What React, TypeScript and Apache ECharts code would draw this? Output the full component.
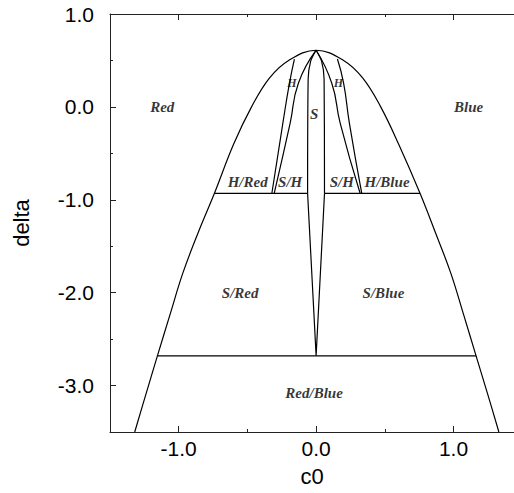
import React, { useEffect, useRef } from "react";
import * as echarts from "echarts";

// Outer phase boundary (c0, delta)
const outerC0 = [-1.32, -1.24, -1.155, -1.06, -0.97, -0.86, -0.74, -0.6, -0.47, -0.34, -0.2, 0, 0.2, 0.34, 0.47, 0.6, 0.756, 0.87, 0.98, 1.07, 1.164, 1.25, 1.33];
const outerDelta = [-3.5, -3.1, -2.68, -2.22, -1.79, -1.36, -0.93, -0.4, 0.0, 0.31, 0.5, 0.61, 0.5, 0.31, 0.0, -0.4, -0.93, -1.36, -1.79, -2.22, -2.68, -3.1, -3.5];

// H region boundaries
const hOuterDelta = [0.515, 0.255, -0.175, -0.93];
const hOuterLeftC0 = [-0.158, -0.194, -0.242, -0.322];
const hOuterRightC0 = [0.155, 0.2, 0.242, 0.332];
const hInnerDelta = [0.61, 0.255, -0.175, -0.93];
const hInnerLeftC0 = [0, -0.129, -0.189, -0.305];
const hInnerRightC0 = [0, 0.114, 0.175, 0.32];

// S region boundaries
const sDelta = [0.61, 0.49, 0.3, -0.93];
const sLeftC0 = [0, -0.04, -0.058, -0.062];
const sRightC0 = [0, 0.04, 0.058, 0.061];

// narrow V below the S region
const vC0 = [-0.062, 0, 0.061];
const vDelta = [-0.93, -2.68, -0.93];

// horizontal boundaries
const upperLineDelta = -0.93;
const upperLeftC0 = [-0.74, -0.062];
const upperRightC0 = [0.061, 0.756];
const lowerLineDelta = -2.68;
const lowerC0 = [-1.155, 1.164];

// region labels
const labelNames = ["Red", "Blue", "H", "H", "S", "H/Red", "S/H", "S/H", "H/Blue", "S/Red", "S/Blue", "Red/Blue"];
const labelC0 = [-1.12, 1.11, -0.177, 0.162, -0.015, -0.498, -0.189, 0.187, 0.516, -0.553, 0.49, -0.015];
const labelDelta = [0.0, 0.0, 0.26, 0.26, -0.075, -0.81, -0.81, -0.81, -0.81, -2.0, -2.0, -3.08];

// ticks
const xMajorTicks = [-1, 0, 1];
const xMinorTicks = [-1.5, -0.5, 0.5];
const yMajorTicks = [-3, -2, -1, 0, 1];
const yMinorTicks = [-2.5, -1.5, -0.5, 0.5];

const zip = (xs: number[], ys: number[]) => xs.map((x, i) => [x, ys[i]]);
const flat = (xs: number[], y: number) => xs.map((x) => [x, y]);

export default function App() {
  const ref = useRef<HTMLDivElement>(null);
  useEffect(() => {
    if (!ref.current) return;
    const chart = echarts.init(ref.current, undefined, { renderer: "svg" });
    const lineStyle = { color: "#000", width: 1.2 };
    const axisLineStyle = { color: "#222", width: 1 };
    const tickFont = { fontSize: 21, fontFamily: "Liberation Sans", color: "#000" };
    const nameFont = { fontSize: 22, fontFamily: "Liberation Sans", color: "#000" };
    const mkLine = (data: number[][], smooth: boolean | number) => ({
      type: "line",
      data,
      smooth,
      symbol: "none",
      lineStyle,
      silent: true,
      xAxisIndex: 0,
      yAxisIndex: 0,
    });
    const baseX = { type: "value", min: -1.5, max: 1.44, splitLine: { show: false } };
    const baseY = { type: "value", min: -3.5, max: 1.0, splitLine: { show: false } };
    chart.setOption({
      animation: false,
      backgroundColor: "#fff",
      grid: { left: 110, top: 14, right: 0, height: 418 },
      xAxis: [
        {
          ...baseX,
          position: "bottom",
          axisLine: { show: true, onZero: false, lineStyle: axisLineStyle },
          axisTick: { show: true, inside: true, length: 6, customValues: xMajorTicks, lineStyle: axisLineStyle },
          axisLabel: { show: true, customValues: xMajorTicks, formatter: (v: number) => v.toFixed(1), margin: 6, ...tickFont },
          name: "c0",
          nameLocation: "middle",
          nameGap: 33,
          nameTextStyle: nameFont,
        },
        {
          ...baseX,
          position: "bottom",
          axisLine: { show: false, onZero: false },
          axisTick: { show: true, inside: true, length: 3, customValues: xMinorTicks, lineStyle: axisLineStyle },
          axisLabel: { show: false },
        },
        {
          ...baseX,
          position: "top",
          axisLine: { show: true, onZero: false, lineStyle: axisLineStyle },
          axisTick: { show: true, inside: true, length: 6, customValues: xMajorTicks, lineStyle: axisLineStyle },
          axisLabel: { show: false },
        },
        {
          ...baseX,
          position: "top",
          axisLine: { show: false, onZero: false },
          axisTick: { show: true, inside: true, length: 3, customValues: xMinorTicks, lineStyle: axisLineStyle },
          axisLabel: { show: false },
        },
      ],
      yAxis: [
        {
          ...baseY,
          position: "left",
          axisLine: { show: true, onZero: false, lineStyle: axisLineStyle },
          axisTick: { show: true, inside: true, length: 6, customValues: yMajorTicks, lineStyle: axisLineStyle },
          axisLabel: { show: true, customValues: yMajorTicks, formatter: (v: number) => v.toFixed(1), margin: 16, ...tickFont },
          name: "delta",
          nameLocation: "middle",
          nameGap: 78,
          nameRotate: 90,
          nameTextStyle: nameFont,
        },
        {
          ...baseY,
          position: "left",
          axisLine: { show: false, onZero: false },
          axisTick: { show: true, inside: true, length: 3, customValues: yMinorTicks, lineStyle: axisLineStyle },
          axisLabel: { show: false },
        },
      ],
      series: [
        mkLine(zip(outerC0, outerDelta), 0.4),
        mkLine(zip(hOuterLeftC0, hOuterDelta), true),
        mkLine(zip(hOuterRightC0, hOuterDelta), true),
        mkLine(zip(hInnerLeftC0, hInnerDelta), true),
        mkLine(zip(hInnerRightC0, hInnerDelta), true),
        mkLine(zip(sLeftC0, sDelta), 0.3),
        mkLine(zip(sRightC0, sDelta), 0.3),
        mkLine(zip(vC0, vDelta), false),
        mkLine(flat(upperLeftC0, upperLineDelta), false),
        mkLine(flat(upperRightC0, upperLineDelta), false),
        mkLine(flat(lowerC0, lowerLineDelta), false),
        {
          type: "scatter",
          symbolSize: 0,
          silent: true,
          xAxisIndex: 0,
          yAxisIndex: 0,
          data: labelNames.map((n, i) => ({
            name: n,
            value: [labelC0[i], labelDelta[i]],
            label: { fontSize: n === "H" ? 12 : 15 },
          })),
          label: {
            show: true,
            position: "inside",
            formatter: "{b}",
            color: "#000",
            fontFamily: "Liberation Serif",
            fontStyle: "italic",
            fontWeight: "bold",
          },
        },
      ],
    });
    return () => chart.dispose();
  }, []);
  return (
    <div
      ref={ref}
      style={{ position: "fixed", left: 0, top: 0, width: 514, height: 493, background: "#fff" }}
    />
  );
}
